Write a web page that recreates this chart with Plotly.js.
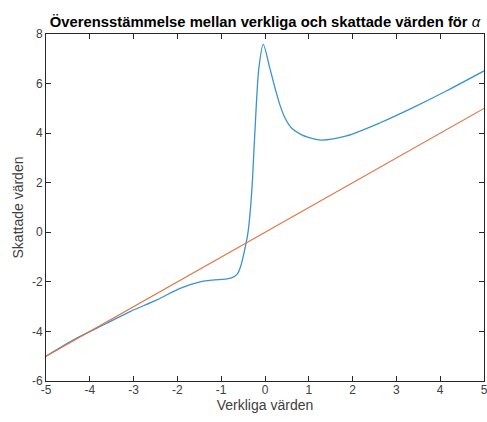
<!DOCTYPE html>
<html>
<head>
<meta charset="utf-8">
<script src="https://cdn.plot.ly/plotly-3.0.1.min.js"></script>
<style>
  html, body { margin: 0; padding: 0; background: #fff; }
  #chart { width: 487px; height: 422px; }
</style>
</head>
<body>
<div id="chart"></div>
<script>
// True values of alpha and the estimated values
const trueAlpha = [-5, -4.37, -3.61, -3.08, -2.47, -1.94, -1.48, -1.20, -0.91, -0.76,
                   -0.64, -0.56, -0.44, -0.38, -0.30, -0.24, -0.14, -0.04, 0.11, 0.23,
                   0.34, 0.46, 0.61, 0.84, 1.14, 1.30, 1.86, 2.63, 3.39, 4.15, 5];
const estAlpha  = [-5, -4.34, -3.67, -3.20, -2.73, -2.26, -2.00, -1.93, -1.89, -1.84,
                   -1.70, -1.40, -0.51, 0.10, 1.71, 3.73, 6.62, 7.58, 6.62, 5.81,
                   5.14, 4.60, 4.20, 3.93, 3.76, 3.72, 3.89, 4.42, 5.04, 5.71, 6.51];
// Reference line y = x
const refX = [-5, 5];
const refY = [-5, 5];

const xTicks = [-5, -4, -3, -2, -1, 0, 1, 2, 3, 4, 5];
const yTicks = [-6, -4, -2, 0, 2, 4, 6, 8];

const fontFam = 'Liberation Sans, Arial, Helvetica, sans-serif';
const axisCol = '#262626';

const traces = [
  { x: trueAlpha, y: estAlpha, mode: 'lines', type: 'scatter',
    line: { color: '#3a93cf', width: 1.3, shape: 'spline', smoothing: 0.8 }, hoverinfo: 'skip' },
  { x: refX, y: refY, mode: 'lines', type: 'scatter',
    line: { color: '#e0713f', width: 1.1 }, hoverinfo: 'skip' }
];

const axisCommon = {
  showgrid: false, zeroline: false,
  showline: true, mirror: 'ticks', linecolor: axisCol, linewidth: 1,
  ticks: 'inside', ticklen: 5, tickcolor: axisCol, tickwidth: 1,
  tickfont: { family: fontFam, size: 12, color: '#404040' },
  ticklabeloverflow: 'allow',
  automargin: false
};

const layout = {
  width: 487, height: 422,
  margin: { l: 46, r: 3, t: 34, b: 41 },
  paper_bgcolor: '#fff', plot_bgcolor: '#fff',
  showlegend: false,
  title: {
    text: '<b>Överensstämmelse mellan verkliga och skattade värden för </b><i>α</i>',
    font: { family: fontFam, size: 14.8, color: '#000' },
    x: 0.5, xanchor: 'center', xref: 'paper',
    y: 0.948, yanchor: 'middle', yref: 'container'
  },
  xaxis: Object.assign({}, axisCommon, {
    range: [-5, 5], tickvals: xTicks, ticktext: xTicks.map(String),
    ticklabelstandoff: -2,
    title: { text: 'Verkliga värden', font: { family: fontFam, size: 14, color: '#404040' }, standoff: 0 }
  }),
  yaxis: Object.assign({}, axisCommon, {
    range: [-6, 8], tickvals: yTicks, ticktext: yTicks.map(String),
    title: { text: 'Skattade värden', font: { family: fontFam, size: 14, color: '#404040' }, standoff: 5 }
  })
};

Plotly.newPlot('chart', traces, layout, { staticPlot: true, displayModeBar: false });
</script>
</body>
</html>
